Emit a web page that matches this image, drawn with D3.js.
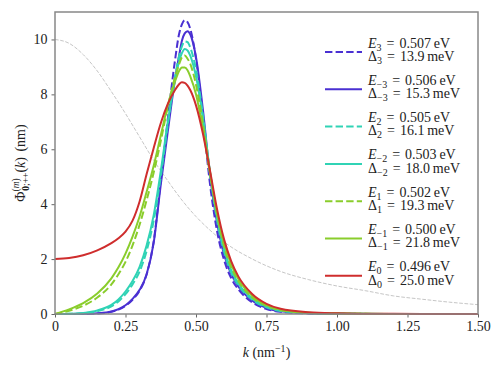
<!DOCTYPE html>
<html>
<head>
<meta charset="utf-8">
<script src="https://cdn.jsdelivr.net/npm/d3@7"></script>
<style>
  body { margin: 0; background: #fff; }
  svg { display: block; }
  text { font-family: "Liberation Serif", "Times New Roman", serif; fill: #222; }
</style>
</head>
<body>
<div class="svg-wrapper"></div>
<script>
// wave number grid shared by the seven spectra (nm^-1)
const kGrid = [0, 0.05, 0.1, 0.15, 0.2, 0.225, 0.25, 0.275, 0.3, 0.325, 0.35, 0.375, 0.4, 0.425, 0.44, 0.45, 0.46, 0.47, 0.48,
  0.5, 0.525, 0.55, 0.575, 0.6, 0.625, 0.65, 0.7, 0.75, 0.8, 0.9, 1.0, 1.1, 1.2, 1.3, 1.4, 1.5];

// Phi values (nm), one array per state
const phiE3  = [0, 0, 0.005, 0.02, 0.08, 0.16, 0.3, 0.52, 0.85, 1.45, 2.65, 4.85, 7.1, 9.2, 10.2, 10.55, 10.7, 10.63, 10.37,
  9.3, 7.1, 4.7, 3.0, 1.95, 1.3, 0.9, 0.42, 0.18, 0.08, 0.02, 0.005, 0, 0, 0, 0, 0];
const phiEm3 = [0, 0, 0.005, 0.025, 0.09, 0.18, 0.32, 0.55, 0.88, 1.45, 2.6, 4.7, 6.65, 8.5, 9.4, 9.95, 10.22, 10.3, 10.18,
  9.35, 7.4, 5.0, 3.3, 2.15, 1.45, 1.0, 0.48, 0.22, 0.1, 0.03, 0.01, 0.003, 0, 0, 0, 0];
const phiE2  = [0, 0.005, 0.03, 0.1, 0.28, 0.46, 0.72, 1.08, 1.55, 2.3, 3.4, 5.0, 6.9, 8.6, 9.4, 9.75, 9.93, 9.9, 9.7,
  8.9, 7.2, 5.1, 3.4, 2.25, 1.5, 1.05, 0.52, 0.24, 0.11, 0.035, 0.012, 0.004, 0.001, 0, 0, 0];
const phiEm2 = [0, 0.008, 0.04, 0.13, 0.33, 0.53, 0.82, 1.2, 1.72, 2.5, 3.6, 5.2, 7.0, 8.5, 9.2, 9.5, 9.65, 9.6, 9.4,
  8.65, 7.1, 5.15, 3.5, 2.35, 1.6, 1.12, 0.56, 0.27, 0.13, 0.04, 0.015, 0.005, 0.002, 0, 0, 0];
const phiE1  = [0, 0.12, 0.3, 0.6, 1.08, 1.45, 1.9, 2.5, 3.25, 4.15, 5.15, 6.3, 7.55, 8.6, 9.1, 9.35, 9.42, 9.3, 9.1,
  8.35, 6.9, 5.15, 3.6, 2.45, 1.7, 1.2, 0.6, 0.3, 0.14, 0.045, 0.017, 0.006, 0.002, 0, 0, 0];
const phiEm1 = [0, 0.17, 0.4, 0.75, 1.3, 1.7, 2.2, 2.82, 3.55, 4.45, 5.4, 6.5, 7.6, 8.45, 8.85, 8.98, 8.98, 8.88, 8.65,
  8.0, 6.7, 5.1, 3.65, 2.55, 1.8, 1.27, 0.65, 0.32, 0.16, 0.05, 0.02, 0.008, 0.003, 0.001, 0, 0];
const phiE0  = [2.0, 2.04, 2.14, 2.32, 2.58, 2.76, 3.0, 3.4, 4.1, 5.1, 6.05, 6.95, 7.65, 8.15, 8.37, 8.44, 8.42, 8.32, 8.15,
  7.6, 6.55, 5.2, 3.8, 2.7, 1.92, 1.37, 0.72, 0.37, 0.19, 0.065, 0.027, 0.012, 0.006, 0.003, 0.002, 0.001];

// grey dashed reference curve
const refK   = [0, 0.05, 0.1, 0.15, 0.2, 0.25, 0.3, 0.35, 0.4, 0.45, 0.5, 0.55, 0.6, 0.7, 0.8, 0.9, 1.0, 1.1, 1.2, 1.3, 1.4, 1.5];
const refPhi = [10, 9.86, 9.45, 8.85, 8.1, 7.3, 6.45, 5.6, 4.85, 4.15, 3.55, 3.05, 2.62, 2.0, 1.55, 1.25, 1.02, 0.85, 0.66, 0.54, 0.43, 0.34];

// legend text
const stateSubs = ["3", "\u22123", "2", "\u22122", "1", "\u22121", "0"];
const energies  = ["0.507", "0.506", "0.505", "0.503", "0.502", "0.500", "0.496"];
const gaps      = ["13.9", "15.3", "16.1", "18.0", "19.3", "21.8", "25.0"];

const xTicks = [0, 0.25, 0.5, 0.75, 1.0, 1.25, 1.5];
const yTicks = [0, 2, 4, 6, 8, 10];

const seriesValues = [phiE3, phiEm3, phiE2, phiEm2, phiE1, phiEm1, phiE0];
const seriesColors = ["#4a30d2", "#4a30d2", "#30d3b5", "#30d3b5", "#8acd2c", "#8acd2c", "#cf2d2d"];
const seriesDashed = [true, false, true, false, true, false, false];

const width = 499, height = 368;
const margin = {top: 12, right: 21, bottom: 54, left: 55};
const innerWidth = width - margin.left - margin.right;
const innerHeight = height - margin.top - margin.bottom;

const svg = d3.select(".svg-wrapper")
  .append("svg")
  .attr("width", width)
  .attr("height", height);

const xScale = d3.scaleLinear().domain([0, 1.5]).range([0, innerWidth]);
const yScale = d3.scaleLinear().domain([0, 11]).range([innerHeight, 0]);

const g = svg.append("g")
  .attr("transform", `translate(${margin.left},${margin.top})`);

const line = d3.line()
  .x(d => xScale(d[0]))
  .y(d => yScale(d[1]))
  .curve(d3.curveMonotoneX);

// reference curve
g.append("path")
  .attr("d", line(refK.map((k, i) => [k, refPhi[i]])))
  .attr("fill", "none")
  .attr("stroke", "#c6c6c6")
  .attr("stroke-width", 1)
  .attr("stroke-dasharray", "3.7,1.6");

seriesValues.forEach(function(vals, s){
  g.append("path")
    .attr("d", line(kGrid.map((k, i) => [k, vals[i]])))
    .attr("fill", "none")
    .attr("stroke", seriesColors[s])
    .attr("stroke-width", 2)
    .attr("stroke-dasharray", seriesDashed[s] ? "7.4,3.2" : null);
});

// axes
const xAxis = d3.axisBottom(xScale)
  .tickValues(xTicks)
  .tickSize(3.5)
  .tickPadding(4)
  .tickFormat(d => d === 0 ? "0" : d.toFixed(2));

const yAxis = d3.axisLeft(yScale)
  .tickValues(yTicks)
  .tickSize(3.5)
  .tickPadding(4)
  .tickFormat(d3.format("d"));

const xAxisG = g.append("g")
  .attr("transform", `translate(0,${innerHeight})`)
  .call(xAxis);
const yAxisG = g.append("g").call(yAxis);

[xAxisG, yAxisG].forEach(function(ax){
  ax.selectAll(".domain").remove();
  ax.selectAll(".tick line").attr("stroke", "#666").attr("stroke-width", 1);
  ax.selectAll(".tick text")
    .attr("fill", "#222")
    .style("font-size", "14px")
    .style("font-family", "'Liberation Serif', serif");
});

// frame
g.append("rect")
  .attr("x", 0)
  .attr("y", 0)
  .attr("width", innerWidth)
  .attr("height", innerHeight)
  .attr("fill", "none")
  .attr("stroke", "#888")
  .attr("stroke-width", 1.5);

// x label
const xLabel = svg.append("text")
  .attr("x", margin.left + innerWidth / 2)
  .attr("y", 357)
  .attr("text-anchor", "middle")
  .style("font-size", "14px");
xLabel.append("tspan").style("font-style", "italic").text("k");
xLabel.append("tspan").text(" (nm");
xLabel.append("tspan").attr("dy", -5).style("font-size", "10px").text("\u22121");
xLabel.append("tspan").attr("dy", 5).text(")");

// y label
const yLabel = svg.append("text")
  .attr("transform", `translate(25,${margin.top + innerHeight / 2}) rotate(-90)`)
  .attr("text-anchor", "middle")
  .style("font-size", "14px")
  .style("word-spacing", "2px");
yLabel.append("tspan").text("\u03a6");
yLabel.append("tspan").attr("dy", -6).style("font-size", "9.5px").text("(");
yLabel.append("tspan").style("font-size", "9.5px").style("font-style", "italic").text("m");
yLabel.append("tspan").style("font-size", "9.5px").text(")");
yLabel.append("tspan").attr("dx", -12.5).attr("dy", 10).style("font-size", "9.5px").style("font-weight", "bold").text("0");
yLabel.append("tspan").style("font-size", "9.5px").text(";++");
yLabel.append("tspan").attr("dy", -4).text("(");
yLabel.append("tspan").style("font-style", "italic").text("k");
yLabel.append("tspan").text(") (nm)");

// legend
const legend = svg.append("g").attr("class", "legend");
const legendX0 = 325, legendX1 = 362, legendY0 = 52, legendStep = 37.3;

stateSubs.forEach(function(sub, i){
  const ly = legendY0 + i * legendStep;
  legend.append("line")
    .attr("x1", legendX0)
    .attr("x2", legendX1)
    .attr("y1", ly)
    .attr("y2", ly)
    .attr("stroke", seriesColors[i])
    .attr("stroke-width", 2)
    .attr("stroke-dasharray", seriesDashed[i] ? "7.4,3.2" : null);

  const t1 = legend.append("text")
    .attr("x", legendX1 + 6)
    .attr("y", ly - 4.5)
    .style("font-size", "14px")
    .style("word-spacing", "1.5px");
  t1.append("tspan").style("font-style", "italic").text("E");
  t1.append("tspan").attr("dy", 3).style("font-size", "10px").text(sub);
  t1.append("tspan").attr("dy", -3).text(" = " + energies[i] + "\u2009eV");

  const t2 = legend.append("text")
    .attr("x", legendX1 + 6)
    .attr("y", ly + 8.7)
    .style("font-size", "14px")
    .style("word-spacing", "1.5px");
  t2.append("tspan").text("\u0394");
  t2.append("tspan").attr("dy", 3).style("font-size", "10px").text(sub);
  t2.append("tspan").attr("dy", -3).text(" = " + gaps[i] + "\u2009meV");
});
</script>
</body>
</html>
